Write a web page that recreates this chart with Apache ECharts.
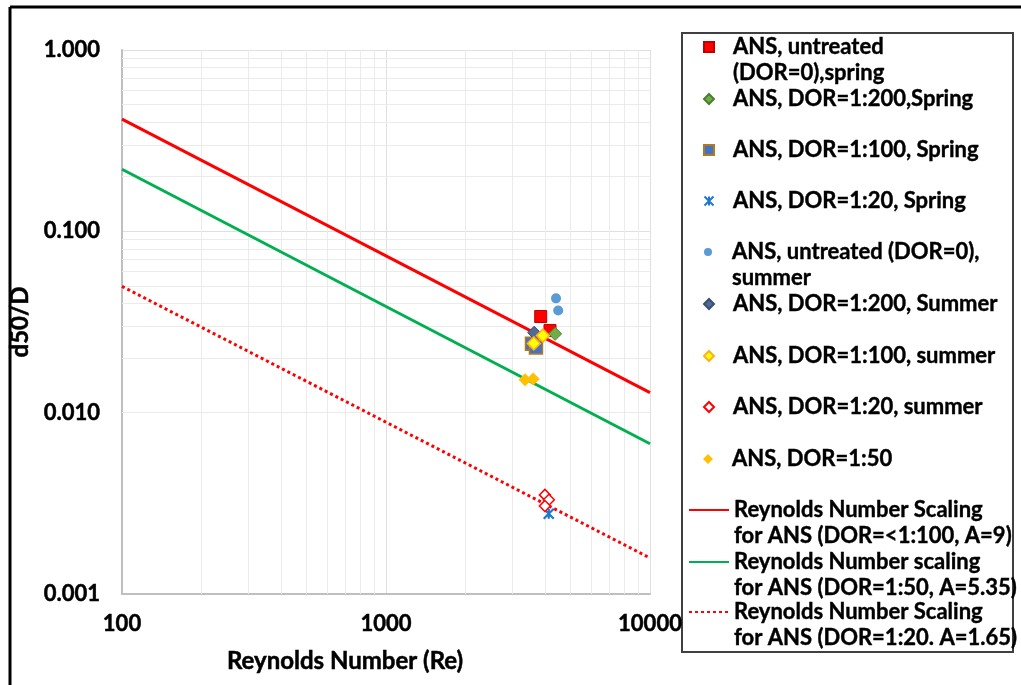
<!DOCTYPE html>
<html><head><meta charset="utf-8">
<script src="https://cdn.jsdelivr.net/npm/echarts@6/dist/echarts.min.js"></script>
<style>html,body{margin:0;padding:0;background:#fff}#c{width:1021px;height:685px}</style>
</head><body><div id="c"></div>
<script>
// ---------- data ----------
const seriesNames = [
  'ANS, untreated (DOR=0),spring',
  'ANS, DOR=1:200,Spring',
  'ANS, DOR=1:100, Spring',
  'ANS, DOR=1:20, Spring',
  'ANS, untreated (DOR=0), summer',
  'ANS, DOR=1:200, Summer',
  'ANS, DOR=1:100, summer',
  'ANS, DOR=1:20, summer',
  'ANS, DOR=1:50',
  'Reynolds Number Scaling for ANS (DOR=<1:100, A=9)',
  'Reynolds Number scaling for ANS (DOR=1:50, A=5.35)',
  'Reynolds Number Scaling for ANS (DOR=1:20. A=1.65)'
];
const legendLines = [
  ['ANS, untreated', '(DOR=0),spring'],
  ['ANS, DOR=1:200,Spring'],
  ['ANS, DOR=1:100, Spring'],
  ['ANS, DOR=1:20, Spring'],
  ['ANS, untreated (DOR=0),', 'summer'],
  ['ANS, DOR=1:200, Summer'],
  ['ANS, DOR=1:100, summer'],
  ['ANS, DOR=1:20, summer'],
  ['ANS, DOR=1:50'],
  ['Reynolds Number Scaling', 'for ANS (DOR=<1:100, A=9)'],
  ['Reynolds Number scaling', 'for ANS (DOR=1:50, A=5.35)'],
  ['Reynolds Number Scaling', 'for ANS (DOR=1:20. A=1.65)']
];
// [Re, d50/D]
const untreatedSpring = [[3855, 0.0339], [4180, 0.0284]];
const dor200Spring    = [[4370, 0.0272]];
const dor100Spring    = [[3573, 0.0240], [3698, 0.0229]];
const dor20Spring     = [[4135, 0.00277]];
const untreatedSummer = [[4405, 0.0427], [4490, 0.0366]];
const dor200Summer    = [[3640, 0.0276]];
const dor100Summer    = [[3630, 0.0241], [3930, 0.0266]];
const dor20Summer     = [[3998, 0.00352], [4140, 0.00331], [3998, 0.00306]];
const dor50           = [[3363, 0.0152], [3610, 0.01535]];
const scalingA9       = [[100, 0.416], [10000, 0.0129]];
const scalingA535     = [[100, 0.220], [10000, 0.00674]];
const scalingA165     = [[100, 0.0497], [10000, 0.00158]];

const xMin = 100, xMax = 10000, yMin = 0.001, yMax = 1;
const xMinorGrid = [200,300,400,500,600,700,800,900,2000,3000,4000,5000,6000,7000,8000,9000];
const yMinorGrid = [0.002,0.003,0.004,0.005,0.006,0.007,0.008,0.009,
                    0.02,0.03,0.04,0.05,0.06,0.07,0.08,0.09,
                    0.2,0.3,0.4,0.5,0.6,0.7,0.8,0.9];

// ---------- styles ----------
const FONT = 'Lato';
const TXT = {fontFamily: FONT, fontWeight: 'bold', color: '#000', textBorderColor: '#000', textBorderWidth: 0.5};
const legendCenters = [45, 97, 148, 199, 250, 302, 354, 405, 457, 508, 560, 610];

const scatterDefs = [
  {data: untreatedSpring, symbol: 'rect', size: 12, color: '#ff0000', border: '#c00000', bw: 1, leg: 10},
  {data: dor200Spring, symbol: 'diamond', size: 13, color: '#70ad47', border: '#4e7d32', bw: 1, leg: 10},
  {data: dor100Spring, symbol: 'rect', size: 13, color: '#4472c4', border: '#b07a1e', bw: 1.5, leg: 10},
  {data: dor20Spring, symbol: 'path://M0,0L10,10M10,0L0,10M5,0L5,10', size: 10, color: 'rgba(0,0,0,0)', border: '#1f77d0', bw: 2.2, leg: 9},
  {data: untreatedSummer, symbol: 'circle', size: 10, color: '#5b9bd5', border: '#5b9bd5', bw: 0, leg: 8},
  {data: dor200Summer, symbol: 'diamond', size: 13, color: '#4e6b94', border: '#3a4f70', bw: 1, leg: 10},
  {data: dor100Summer, symbol: 'diamond', size: 13, color: '#ffff00', border: '#ffb020', bw: 1.5, leg: 10},
  {data: dor20Summer, symbol: 'diamond', size: 11, color: '#ffffff', border: '#ff0000', bw: 1.5, leg: 10},
  {data: dor50, symbol: 'diamond', size: 13, color: '#ffc000', border: '#ffc000', bw: 0, leg: 10}
];
const lineDefs = [
  {data: scalingA9, color: '#ff0000', type: 'solid'},
  {data: scalingA535, color: '#00b050', type: 'solid'},
  {data: scalingA165, color: '#ff0000', type: [3, 3]}
];

const series = [];
// helper series carrying the minor gridlines
series.push({
  type: 'line', name: '_grid', data: [], silent: true, z: 1,
  markLine: {
    silent: true, symbol: ['none', 'none'], animation: false, z: 1,
    label: {show: false},
    lineStyle: {color: '#ebebeb', width: 1, type: 'solid'},
    emphasis: {disabled: true},
    data: xMinorGrid.map(v => ({xAxis: v})).concat(yMinorGrid.map(v => ({yAxis: v})))
  }
});
lineDefs.forEach((d, i) => {
  series.push({
    type: 'line', name: seriesNames[9 + i], data: d.data, symbol: 'none', z: 3,
    lineStyle: {color: d.color, width: 3, type: d.type}, itemStyle: {color: d.color},
    animation: false
  });
});
scatterDefs.forEach((d, i) => {
  series.push({
    type: 'scatter', name: seriesNames[i], data: d.data, symbol: d.symbol, symbolSize: d.size, z: 4,
    itemStyle: {color: d.color, borderColor: d.border, borderWidth: d.bw, opacity: 1},
    animation: false
  });
});

const legends = seriesNames.map((n, i) => {
  const lines = legendLines[i];
  const two = lines.length > 1;
  const txt = two ? '\n' + lines[0] + '\n' + lines[1] : lines[0];
  const isLine = i >= 9;
  const s = isLine ? 10 : scatterDefs[i].leg;
  const base = {
    data: [n], orient: 'vertical',
    top: legendCenters[i] - 11 - (two ? 26 : 0),
    padding: 0, selectedMode: false,
    formatter: () => txt
  };
  const ts = Object.assign({fontSize: 22, lineHeight: 26}, TXT, {textBorderWidth: 0.4});
  if (isLine) {
    return Object.assign(base, {left: 688, itemWidth: 40, itemHeight: 10, textStyle: ts,
      itemStyle: {color: 'rgba(0,0,0,0)', borderWidth: 0, opacity: 0}});
  }
  const padLeft = 732 - (708 + s / 2 + 5);
  ts.padding = [0, 0, 0, padLeft];
  return Object.assign(base, {left: 708 - s / 2, itemWidth: s, itemHeight: s, textStyle: ts});
});

const chart = echarts.init(document.getElementById('c'), null, {renderer: 'canvas'});
chart.setOption({
  backgroundColor: '#fff',
  animation: false,
  grid: {left: 122, top: 50, right: 371, bottom: 91, containLabel: false},
  xAxis: {
    type: 'log', logBase: 10, min: xMin, max: xMax,
    name: 'Reynolds Number (Re)', nameLocation: 'middle', nameGap: 55,
    nameTextStyle: Object.assign({fontSize: 24, padding: [0, 82, 0, 0]}, TXT),
    axisLine: {show: true, lineStyle: {color: '#bfbfbf', width: 2}},
    axisTick: {show: false},
    axisLabel: Object.assign({fontSize: 22, margin: 19, formatter: v => String(Math.round(v))}, TXT),
    splitLine: {show: true, lineStyle: {color: '#e0e0e0', width: 1}}
  },
  yAxis: {
    type: 'log', logBase: 10, min: yMin, max: yMax,
    name: 'd50/D', nameLocation: 'middle', nameGap: 80,
    nameTextStyle: Object.assign({fontSize: 24}, TXT),
    axisLine: {show: true, lineStyle: {color: '#bfbfbf', width: 2}},
    axisTick: {show: false},
    axisLabel: Object.assign({fontSize: 22, margin: 22, formatter: v => v.toFixed(3)}, TXT),
    splitLine: {show: true, lineStyle: {color: '#e0e0e0', width: 1}}
  },
  legend: legends,
  graphic: [
    {type: 'rect', shape: {x: 682, y: 33, width: 331, height: 619}, style: {fill: 'none', stroke: '#404040', lineWidth: 2}, z: 0, silent: true},
    {type: 'line', shape: {x1: 10, y1: 7, x2: 1021, y2: 7}, style: {stroke: '#000', lineWidth: 3}, silent: true},
    {type: 'line', shape: {x1: 10, y1: 7, x2: 10, y2: 685}, style: {stroke: '#000', lineWidth: 3}, silent: true}
  ],
  series: series
});
</script></body></html>
